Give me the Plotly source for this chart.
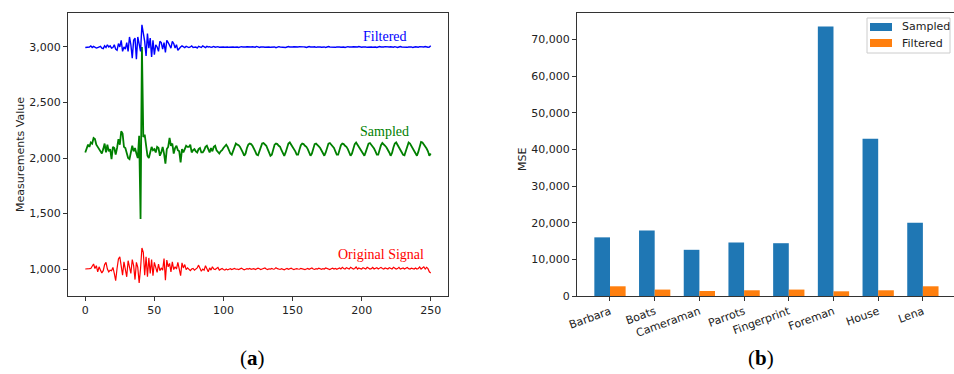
import plotly.graph_objects as go

# ---------------- Data: left panel (signals) ----------------
sample_index = list(range(251))

original_signal = [
    1000,1000,998,1003,1005,1020,1045,1005,1030,975,
    1020,990,965,985,1040,1060,1000,975,990,985,
    1015,960,895,1005,1090,1110,1010,945,1065,990,
    930,1075,1005,960,1085,1030,905,1060,1015,875,
    1005,1190,1150,945,1110,930,1100,960,1085,940,
    1060,1005,970,1045,985,1010,990,1095,900,1080,
    1020,1050,975,1065,995,1020,1000,1060,990,940,
    1055,1010,1040,995,1010,1000,985,1000,1005,990,
    1000,1010,1035,1005,980,1000,990,1030,1000,975,
    1010,990,1020,1000,995,1005,1015,990,1000,1005,
    995,990,1000,992,998,1003,995,1000,1005,998,
    1000,995,1002,1008,1000,993,998,1003,1000,1006,
    998,1000,1004,996,1000,1008,1002,995,1000,1003,
    1010,1000,995,1002,1000,1006,998,1000,1012,1003,
    1000,996,1004,1000,993,1000,1005,998,1002,1008,
    1000,995,1000,1004,1000,998,1006,1002,1000,995,
    1000,1005,998,1002,1010,1000,996,1003,1000,1007,
    1000,998,1004,1000,1010,1005,1000,995,1002,1008,
    1000,1006,998,1003,1010,1000,1015,1005,1000,1012,
    1003,1000,1015,1008,1000,1005,1018,1000,1010,1003,
    1000,1012,1005,1000,1015,1008,1000,1003,1014,1000,
    1006,1012,1000,1004,1015,1005,1000,1010,1003,1000,
    1012,1005,1000,1016,1008,1000,1004,1015,1000,1006,
    1010,1000,1005,1014,1003,1000,1008,1002,1000,1010,
    1000,1005,1018,1000,1012,1020,1000,1015,1003,975,
    965,
]

sampled_signal = [
    2050,2080,2120,2100,2140,2130,2180,2170,2120,2100,
    2080,2060,2040,2080,2130,2050,2120,2060,2080,1990,
    2100,2090,2030,2090,2170,2120,2240,2220,2100,2090,
    2050,2000,1990,2060,2110,2060,2090,2040,2000,2200,
    1450,3000,2190,2210,2080,2020,2000,2060,2100,2070,
    2080,2050,2100,2090,2020,2050,2100,2040,1950,2080,
    2100,2180,2110,2130,2040,2090,2110,2070,2060,1960,
    2080,2050,2090,2110,2100,2100,2120,2050,2070,2080,
    2060,2050,2080,2090,2050,2050,2070,2100,2110,2080,
    2050,2090,2060,2100,2110,2070,2050,2040,2060,2070,
    2090,2110,2120,2100,2060,2040,2030,2070,2110,2130,
    2120,2115,2100,2080,2050,2020,2040,2090,2120,2130,
    2125,2110,2090,2060,2030,2025,2060,2100,2130,2135,
    2120,2110,2080,2050,2020,2030,2080,2120,2130,2125,
    2110,2100,2070,2040,2020,2050,2100,2130,2140,2120,
    2110,2090,2060,2030,2030,2075,2115,2130,2125,2110,
    2100,2080,2050,2020,2040,2090,2125,2130,2120,2105,
    2090,2070,2040,2020,2050,2100,2130,2135,2120,2110,
    2090,2060,2030,2030,2070,2115,2130,2125,2110,2100,
    2080,2050,2020,2040,2090,2125,2140,2120,2110,2090,
    2070,2040,2020,2055,2100,2130,2135,2120,2105,2085,
    2060,2030,2030,2075,2115,2135,2125,2110,2095,2075,
    2050,2020,2045,2095,2130,2140,2120,2100,2080,2060,
    2030,2025,2070,2115,2140,2130,2110,2090,2065,2040,
    2020,2055,2110,2145,2140,2125,2110,2085,2060,2020,
    2040,
]

filtered_signal = [
    2995,2998,2996,3000,3010,2995,3005,3000,2990,2995,
    3000,3005,2990,2985,3010,2995,3020,3000,3010,2990,
    2995,3020,2980,2970,3030,3000,3060,2960,3000,2980,
    3040,2960,3090,3020,2900,3060,3080,2890,3090,3010,
    2960,3200,3130,3050,2920,3120,2990,3080,2910,3060,
    2930,3020,3000,2960,3050,3040,2980,3040,2950,3060,
    3040,3010,2990,3050,3030,2990,3020,2970,2990,3000,
    3010,3000,2995,3005,3000,2995,3000,3010,2995,3000,
    3000,2990,3005,3000,2995,3010,3000,2995,3005,3000,
    3003,2997,3000,3005,2998,3000,3003,2997,3000,3002,
    3000,2998,3002,3000,2997,3000,3003,3000,2998,3001,
    3000,2996,3000,3003,3000,2998,3000,3002,3000,2997,
    3000,3002,3000,2998,3005,3000,2996,3000,3002,3000,
    2998,3000,3003,3000,2997,3000,3002,3000,2994,3000,
    3003,3000,2998,3001,3000,2996,3000,3004,3000,2998,
    3000,3002,3000,2997,3000,3003,3000,2999,3001,3000,
    2996,3000,3004,3000,2998,3000,3002,2997,3000,3003,
    3000,2998,3001,3000,2995,3000,3004,3000,2998,3002,
    3000,2997,3000,3003,3000,2998,3001,3000,2996,3000,
    3003,3000,2998,3000,3002,3000,2997,3000,3004,3000,
    2998,3000,3003,3000,2997,3000,3002,3000,2998,3001,
    3000,2996,3000,3004,3000,2998,3000,3003,3000,2997,
    3000,3002,3000,2998,3003,3000,2996,3000,3004,3000,
    2998,3001,3000,2997,3000,3003,3000,2995,3000,3002,
    3000,2998,3003,3000,2997,3000,3004,3000,2998,3000,
    3012,
]

left_xticks = [0, 50, 100, 150, 200, 250]
left_yticks = [1000, 1500, 2000, 2500, 3000]

# ---------------- Data: right panel (MSE bars) ----------------
images = ["Barbara", "Boats", "Cameraman", "Parrots", "Fingerprint", "Foreman", "House", "Lena"]
mse_sampled = [16000, 17900, 12600, 14600, 14400, 73500, 42900, 20000]
mse_filtered = [2650, 1750, 1370, 1560, 1750, 1280, 1560, 2650]
right_yticks = [0, 10000, 20000, 30000, 40000, 50000, 60000, 70000]
bar_series = ["Sampled", "Filtered"]
bar_colors = ["#1f77b4", "#ff7f0e"]

# ---------------- Figure ----------------
W, H = 954, 374
TICK_FONT = dict(family="DejaVu Sans", size=11, color="#222222")
AX_COL = "#333333"

fig = go.Figure()

fig.add_trace(go.Scatter(x=sample_index, y=original_signal, mode="lines",
                         line=dict(color="#ff0000", width=1.2), xaxis="x", yaxis="y",
                         showlegend=False, name="Original Signal"))
fig.add_trace(go.Scatter(x=sample_index, y=sampled_signal, mode="lines",
                         line=dict(color="#008000", width=1.8), xaxis="x", yaxis="y",
                         showlegend=False, name="Sampled"))
fig.add_trace(go.Scatter(x=sample_index, y=filtered_signal, mode="lines",
                         line=dict(color="#0000ff", width=1.4), xaxis="x", yaxis="y",
                         showlegend=False, name="Filtered"))

pos = list(range(len(images)))
fig.add_trace(go.Bar(x=pos, y=mse_sampled, name=bar_series[0],
                     marker=dict(color=bar_colors[0], line=dict(width=0)),
                     xaxis="x2", yaxis="y2", offsetgroup="s", showlegend=False))
fig.add_trace(go.Bar(x=pos, y=mse_filtered, name=bar_series[1],
                     marker=dict(color=bar_colors[1], line=dict(width=0)),
                     xaxis="x2", yaxis="y2", offsetgroup="f", showlegend=False))

ydom = [1 - 296 / H, 1 - 13 / H]

axis_common = dict(showline=True, linecolor=AX_COL, linewidth=1, mirror=True,
                   ticks="outside", ticklen=4, tickcolor=AX_COL, tickwidth=1,
                   showgrid=False, zeroline=False, tickfont=TICK_FONT, automargin=False)

fig.update_layout(
    width=W, height=H,
    margin=dict(l=0, r=0, t=0, b=0, pad=0, autoexpand=False),
    paper_bgcolor="white", plot_bgcolor="white",
    barmode="group", bargap=0.3, bargroupgap=0,
    xaxis=dict(domain=[68 / W, 448 / W], range=[-12.5, 262.5], tickvals=left_xticks,
               anchor="y", **axis_common),
    yaxis=dict(domain=ydom, range=[757, 3306], tickvals=left_yticks,
               tickformat=",d", anchor="x", **axis_common),
    xaxis2=dict(domain=[577 / W, 1.0], range=[-0.738, 7.696], tickvals=pos, ticktext=images,
                tickangle=-20, anchor="y2", **axis_common),
    yaxis2=dict(domain=ydom, range=[0, 77200], tickvals=right_yticks,
                tickformat=",d", anchor="x2", **axis_common),
    showlegend=False,
)

ann = []
def add_text(text, x, y, size, color="#222222", family="DejaVu Sans", angle=0, xanchor="center"):
    ann.append(dict(text=text, x=x / W, y=1 - y / H, xref="paper", yref="paper",
                    showarrow=False, xanchor=xanchor, yanchor="middle",
                    textangle=angle, font=dict(family=family, size=size, color=color)))

add_text("Filtered", 385, 37, 14, "#0000ff", "Liberation Serif")
add_text("Sampled", 384, 131, 14, "#008000", "Liberation Serif")
add_text("Original Signal", 381, 255, 14, "#ff0000", "Liberation Serif")
add_text("Measurements Value", 20, 155, 11, angle=-90)
add_text("MSE", 523, 160, 11, angle=-90)
add_text("(<b>a</b>)", 252, 358, 21, "#000000", "Liberation Serif")
add_text("(<b>b</b>)", 761, 358, 21, "#000000", "Liberation Serif")

# legend (drawn manually to match the compact matplotlib style)
shapes = [dict(type="rect", xref="paper", yref="paper",
               x0=867 / W, x1=950 / W, y0=1 - 53 / H, y1=1 - 18 / H,
               line=dict(color="#cccccc", width=1), fillcolor="rgba(255,255,255,0.9)", layer="above")]
for i, (nm, col) in enumerate(zip(bar_series, bar_colors)):
    yc = 27 + 16 * i
    shapes.append(dict(type="rect", xref="paper", yref="paper",
                       x0=870 / W, x1=892 / W, y0=1 - (yc + 4) / H, y1=1 - (yc - 4) / H,
                       line=dict(width=0), fillcolor=col, layer="above"))
    add_text(nm, 900, yc, 11, xanchor="left")

fig.update_layout(annotations=ann, shapes=shapes)

fig.write_html("out.html",
               config={"displayModeBar": False},
               post_script="document.body.style.margin='0';document.body.style.overflow='hidden';")
